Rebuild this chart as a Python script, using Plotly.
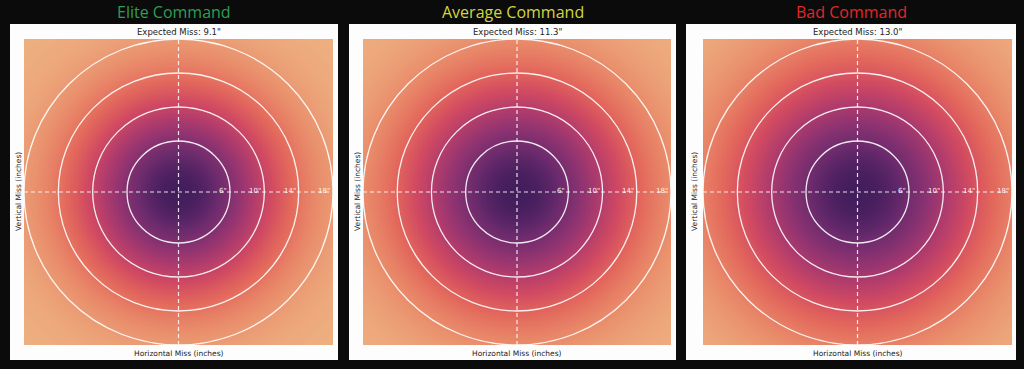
import numpy as np
import plotly.graph_objects as go

# ---- data ----
panel_titles = ["Elite Command", "Average Command", "Bad Command"]
title_colors = ["#2f9e52", "#d2d63c", "#e3262a"]
expected_miss = [9.1, 11.3, 13.0]          # inches, shown in each panel
spread_sigma = [8.3, 9.2, 10.0]            # visual spread of the miss density (inches)
ring_radii = [6, 10, 14, 18]
ring_labels = ['6"', '10"', '14"', '18"']
axis_limit = 18

# flare-like colour scale (light -> dark)
flare = [
    [0.0, "#eeb281"], [0.143, "#e98d6b"], [0.286, "#e3685c"], [0.429, "#d14a61"],
    [0.571, "#b13c6c"], [0.714, "#8f3371"], [0.857, "#6c2b6d"], [1.0, "#421d5c"],
]

W, H = 1024, 369
heat_px = [(24, 333), (363, 671), (703, 1012)]
heat_py = (39, 345)
box_px = [(10, 338), (349, 676), (686, 1016)]
box_py = (24, 360)
title_cx = [174, 513, 851]

grid = np.linspace(-axis_limit, axis_limit, 241)
gx, gy = np.meshgrid(grid, grid)

fig = go.Figure()
shapes = []
annotations = []

def fx(px):
    return px / W

def fy(py):
    return 1 - py / H

for i in range(3):
    s = spread_sigma[i]
    z = np.exp(-(gx ** 2 + gy ** 2) / (2 * s ** 2))
    xa = "x" if i == 0 else f"x{i+1}"
    ya = "y" if i == 0 else f"y{i+1}"
    fig.add_trace(go.Heatmap(
        x=grid, y=grid, z=z, colorscale=flare, zmin=0, zmax=1,
        showscale=False, hoverinfo="skip", xaxis=xa, yaxis=ya, zsmooth="best",
    ))
    ax_key = "xaxis" if i == 0 else f"xaxis{i+1}"
    ay_key = "yaxis" if i == 0 else f"yaxis{i+1}"
    fig.update_layout(**{
        ax_key: dict(domain=[fx(heat_px[i][0]), fx(heat_px[i][1])], range=[-axis_limit, axis_limit],
                     visible=False, anchor=ya, fixedrange=True),
        ay_key: dict(domain=[fy(heat_py[1]), fy(heat_py[0])], range=[-axis_limit, axis_limit],
                     visible=False, anchor=xa, fixedrange=True),
    })
    # white card
    shapes.append(dict(type="rect", xref="paper", yref="paper",
                       x0=fx(box_px[i][0]), x1=fx(box_px[i][1]), y0=fy(box_py[1]), y1=fy(box_py[0]),
                       fillcolor="#fdfdfd", line=dict(width=0), layer="below"))
    # rings
    for r in ring_radii:
        shapes.append(dict(type="circle", xref=xa, yref=ya, x0=-r, x1=r, y0=-r, y1=r,
                           line=dict(color="rgba(255,255,255,0.9)", width=1.3)))
    # crosshair
    shapes.append(dict(type="line", xref=xa, yref=ya, x0=-axis_limit, x1=axis_limit, y0=0, y1=0,
                       line=dict(color="rgba(255,255,255,0.85)", width=1.2, dash="4px,3px")))
    shapes.append(dict(type="line", xref=xa, yref=ya, x0=0, x1=0, y0=-axis_limit, y1=axis_limit,
                       line=dict(color="rgba(255,255,255,0.85)", width=1.2, dash="4px,3px")))
    for r, lab in zip(ring_radii, ring_labels):
        annotations.append(dict(x=r, y=0, xref=xa, yref=ya, text=lab, showarrow=False,
                                xanchor="right", yanchor="middle", xshift=-1, yshift=1,
                                font=dict(family="DejaVu Sans", size=7, color="rgba(255,255,255,0.95)")))
    cx = (heat_px[i][0] + heat_px[i][1]) / 2
    # panel titles
    annotations.append(dict(x=fx(title_cx[i]), y=1, xref="paper", yref="paper", text=panel_titles[i],
                            showarrow=False, xanchor="center", yanchor="top", borderpad=0,
                            font=dict(family="Open Sans", size=16, color=title_colors[i])))
    annotations.append(dict(x=fx(cx), y=fy(32), xref="paper", yref="paper",
                            text=f'Expected Miss: {expected_miss[i]:.1f}"', showarrow=False,
                            xanchor="center", yanchor="middle",
                            font=dict(family="DejaVu Sans", size=8.5, color="#222222")))
    annotations.append(dict(x=fx(cx), y=fy(353), xref="paper", yref="paper",
                            text="Horizontal Miss (inches)", showarrow=False,
                            xanchor="center", yanchor="middle",
                            font=dict(family="DejaVu Sans", size=7.5, color="#222222")))
    annotations.append(dict(x=fx(box_px[i][0] + 8), y=fy(192), xref="paper", yref="paper",
                            text="Vertical Miss (inches)", showarrow=False, textangle=-90,
                            xanchor="center", yanchor="middle",
                            font=dict(family="DejaVu Sans", size=7.5, color="#222222")))

fig.update_layout(
    width=W, height=H, margin=dict(l=0, r=0, t=0, b=0),
    paper_bgcolor="#0b0b0b", plot_bgcolor="#0b0b0b",
    shapes=shapes, annotations=annotations, showlegend=False,
)

fig.write_html(
    "out.html",
    config={"displayModeBar": False, "staticPlot": True},
    post_script="document.body.style.margin='0';document.body.style.padding='0';"
                "document.body.style.overflow='hidden';document.body.style.background='#0b0b0b';",
)
